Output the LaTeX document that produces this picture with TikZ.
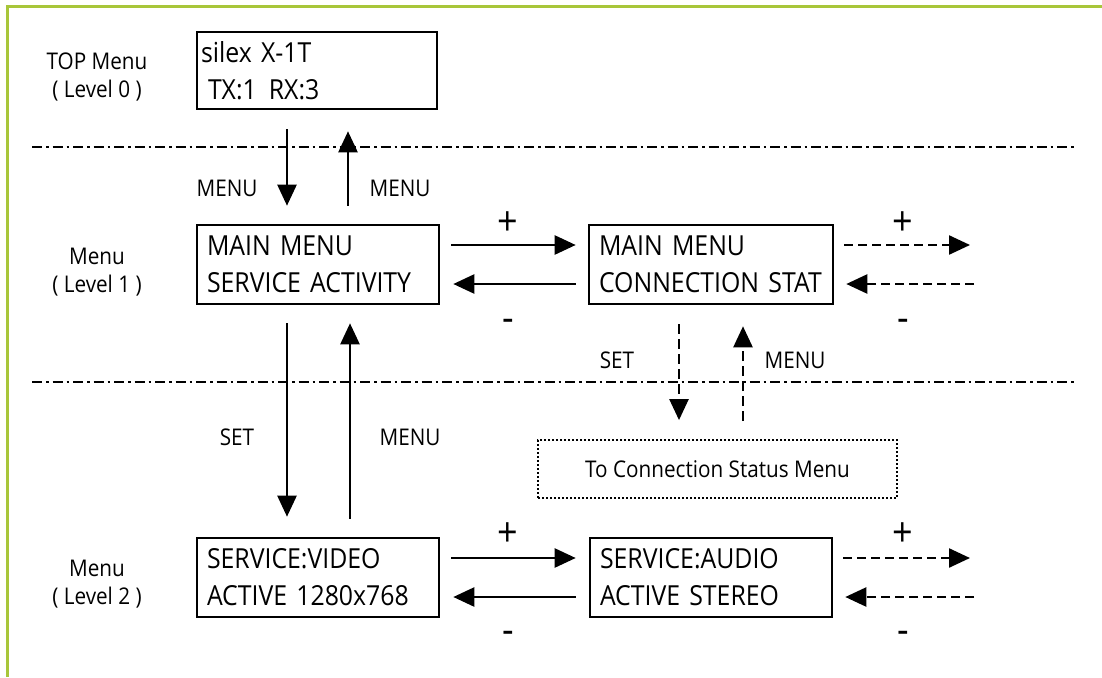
\documentclass[tikz,border=0pt]{standalone}
\usepackage{fontspec}
\setmainfont{Open Sans}[FakeStretch=0.9]
\usetikzlibrary{arrows.meta}
\definecolor{framegreen}{RGB}{168,198,58}

\begin{document}
\begin{tikzpicture}[x=1pt,y=-1pt,
  lcd/.style={draw, line width=2.6pt, minimum height=79pt, inner xsep=10pt,
    inner ysep=0pt, text width=222pt, align=left,
    font=\fontsize{27.6}{37}\selectfont},
  note/.style={draw, line width=1.8pt, dash pattern=on 1.6pt off 2.4pt,
    minimum width=359pt, minimum height=58pt, font=\fontsize{23}{28}\selectfont},
  lbl/.style={inner sep=0pt, font=\fontsize{23}{28}\selectfont},
  side/.style={inner sep=0pt, align=center, font=\fontsize{23}{28}\selectfont},
  sign/.style={inner sep=0pt, font=\fontsize{40}{44}\selectfont},
  arr/.style={-{Triangle[length=21pt,width=19pt]}, line width=2.4pt},
  darr/.style={arr, dash pattern=on 9pt off 5pt},
  levelsep/.style={line width=2.2pt, dash pattern=on 10pt off 4pt on 2.5pt off 4pt}]

\useasboundingbox (0,0) rectangle (1102,677);

% frame
\draw[framegreen, line width=3pt] (7,677) -- (7,7) -- (1102,7);

% level separators
\draw[levelsep] (32,147) -- (1075,147);
\draw[levelsep] (32,382) -- (1075,382);

% level captions
\node[side] (cap0) at (97,77) {TOP Menu\\( Level 0 )};
\node[side] (cap1) at (97,272.5) {Menu\\( Level 1 )};
\node[side] (cap2) at (97,584) {Menu\\( Level 2 )};

% display screens
\node[lcd, text width=232pt, inner xsep=4pt, minimum height=77pt] (top) at (317,70.5)
  {silex X-1T\\\hspace*{7pt}TX:1\hspace{12pt}RX:3};
\node[lcd] (svc) at (318,264.5) {MAIN MENU\\SERVICE ACTIVITY};
\node[lcd, text width=224pt] (con) at (711,264.5) {MAIN MENU\\CONNECTION STAT};
\node[lcd] (vid) at (318,577.5) {SERVICE:VIDEO\\ACTIVE 1280x768};
\node[lcd] (aud) at (711,577.5) {SERVICE:AUDIO\\ACTIVE STEREO};
\node[note] (stat) at (717.5,469) {To Connection Status Menu};

% open ends of the dashed arrows
\coordinate (nx1) at (970,245);
\coordinate (px1) at (974,284);
\coordinate (nx2) at (970,558);
\coordinate (px2) at (974,597);

% level 0 <-> level 1
\draw[arr, shorten <=19pt, shorten >=18pt]
  ([xshift=-30pt]top.south) -- ([xshift=-30pt]top.south |- svc.north);
\draw[arr, shorten <=18pt, shorten >=21pt]
  ([xshift=31pt]top.south |- svc.north) -- ([xshift=31pt]top.south);
\node[lbl] at (227,188) {MENU};
\node[lbl] at (400,188) {MENU};

% level 1 <-> level 2
\draw[arr, shorten <=18pt, shorten >=20pt]
  ([xshift=-31pt]svc.south) -- ([xshift=-31pt]svc.south |- vid.north);
\draw[arr, shorten <=18pt, shorten >=18pt]
  ([xshift=32pt]svc.south |- vid.north) -- ([xshift=32pt]svc.south);
\node[lbl] at (237,437) {SET};
\node[lbl] at (410,437) {MENU};

% connection status branch
\draw[darr, dash pattern=on 10pt off 5pt, shorten <=19pt, shorten >=19pt]
  ([xshift=-32pt]con.south) -- ([xshift=-32pt]con.south |- stat.north);
\draw[darr, dash pattern=on 10pt off 5pt, shorten <=18pt, shorten >=21pt]
  ([xshift=32pt]con.south |- stat.north) -- ([xshift=32pt]con.south);
\node[lbl] at (617,360) {SET};
\node[lbl] at (795,360) {MENU};

% level 1 scrolling
\draw[arr, shorten <=11pt, shorten >=12pt]
  ([yshift=19.5pt]svc.east) -- ([yshift=19.5pt]con.west);
\draw[arr, shorten <=12pt, shorten >=13pt]
  ([yshift=-19.5pt]con.west) -- ([yshift=-19.5pt]svc.east);
\draw[darr, shorten <=10pt] ([yshift=19.5pt]con.east) -- (nx1);
\draw[darr, shorten >=12pt] (px1) -- ([yshift=-19.5pt]con.east);
\node[sign] at (508,224) {+};
\node[sign] at (508,325) {-};
\node[sign] at (903,224) {+};
\node[sign] at (903,325) {-};

% level 2 scrolling
\draw[arr, shorten <=11pt, shorten >=13pt]
  ([yshift=19.5pt]vid.east) -- ([yshift=19.5pt]aud.west);
\draw[arr, shorten <=13pt, shorten >=13pt]
  ([yshift=-19.5pt]aud.west) -- ([yshift=-19.5pt]vid.east);
\draw[darr, shorten <=10pt] ([yshift=19.5pt]aud.east) -- (nx2);
\draw[darr, shorten >=12pt] (px2) -- ([yshift=-19.5pt]aud.east);
\node[sign] at (508,535) {+};
\node[sign] at (508,637) {-};
\node[sign] at (903,535) {+};
\node[sign] at (903,637) {-};

\end{tikzpicture}
\end{document}
